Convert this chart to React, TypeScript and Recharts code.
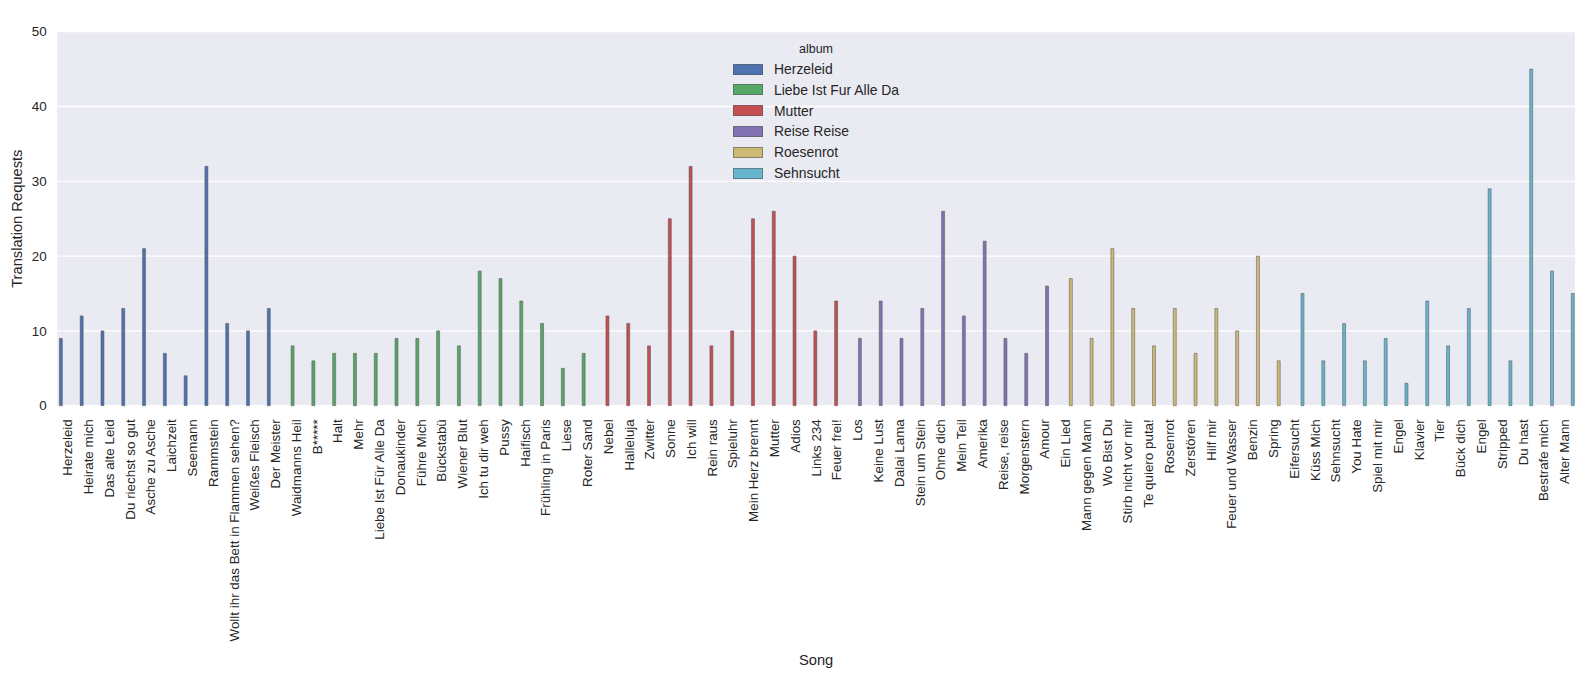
import React from 'react';
import { Bar, BarChart, CartesianGrid, Legend, XAxis, YAxis } from 'recharts';

const albums = ['Herzeleid', 'Liebe Ist Fur Alle Da', 'Mutter', 'Reise Reise', 'Roesenrot', 'Sehnsucht'];
const albumColors = ['#4C72B0', '#55A868', '#C44E52', '#8172B2', '#CCB974', '#64B5CD'];

const herzeleidSongs = ['Herzeleid', 'Heirate mich', 'Das alte Leid', 'Du riechst so gut', 'Asche zu Asche', 'Laichzeit', 'Seemann', 'Rammstein', 'Wollt ihr das Bett in Flammen sehen?', 'Weißes Fleisch', 'Der Meister'];
const herzeleidCounts = [9, 12, 10, 13, 21, 7, 4, 32, 11, 10, 13];

const liebeSongs = ['Waidmanns Heil', 'B*****', 'Halt', 'Mehr', 'Liebe Ist Für Alle Da', 'Donaukinder', 'Führe Mich', 'Bückstabü', 'Wiener Blut', 'Ich tu dir weh', 'Pussy', 'Haifisch', 'Frühling in Paris', 'Liese', 'Roter Sand'];
const liebeCounts = [8, 6, 7, 7, 7, 9, 9, 10, 8, 18, 17, 14, 11, 5, 7];

const mutterSongs = ['Nebel', 'Halleluja', 'Zwitter', 'Sonne', 'Ich will', 'Rein raus', 'Spieluhr', 'Mein Herz brennt', 'Mutter', 'Adios', 'Links 234', 'Feuer frei!'];
const mutterCounts = [12, 11, 8, 25, 32, 8, 10, 25, 26, 20, 10, 14];

const reiseSongs = ['Los', 'Keine Lust', 'Dalai Lama', 'Stein um Stein', 'Ohne dich', 'Mein Teil', 'Amerika', 'Reise, reise', 'Morgenstern', 'Amour'];
const reiseCounts = [9, 14, 9, 13, 26, 12, 22, 9, 7, 16];

const rosenrotSongs = ['Ein Lied', 'Mann gegen Mann', 'Wo Bist Du', 'Stirb nicht vor mir', 'Te quiero puta!', 'Rosenrot', 'Zerstören', 'Hilf mir', 'Feuer und Wasser', 'Benzin', 'Spring'];
const rosenrotCounts = [17, 9, 21, 13, 8, 13, 7, 13, 10, 20, 6];

const sehnsuchtSongs = ['Eifersucht', 'Küss Mich', 'Sehnsucht', 'You Hate', 'Spiel mit mir', 'Engel', 'Klavier', 'Tier', 'Bück dich', 'Engel', 'Stripped', 'Du hast', 'Bestrafe mich', 'Alter Mann'];
const sehnsuchtCounts = [15, 6, 11, 6, 9, 3, 14, 8, 13, 29, 6, 45, 18, 15];

const yTicks = [0, 10, 20, 30, 40, 50];

const songGroups = [herzeleidSongs, liebeSongs, mutterSongs, reiseSongs, rosenrotSongs, sehnsuchtSongs];
const countGroups = [herzeleidCounts, liebeCounts, mutterCounts, reiseCounts, rosenrotCounts, sehnsuchtCounts];

const rows = songGroups.flatMap((songs, g) =>
    songs.map((song, i) => {
        const row: Record<string, string | number | null> = { song };
        albums.forEach((_, k) => {
            row['a' + k] = k === g ? countGroups[g][i] : null;
        });
        return row;
    })
);

const FONT = '"Liberation Sans", Arial, sans-serif';
const TEXT = '#262626';

function SongTick({ x, y, payload }: any) {
    return (
        <text
            x={x}
            y={y}
            transform={`rotate(-90, ${x}, ${y})`}
            textAnchor="end"
            dominantBaseline="central"
            fontSize={13.4}
            fontFamily={FONT}
            fill={TEXT}
        >
            {payload.value}
        </text>
    );
}

function AlbumLegend() {
    return (
        <div style={{ position: 'relative', width: 1587, height: 200, fontFamily: FONT, color: TEXT }}>
            <div style={{ position: 'absolute', left: 766, top: 40, width: 100, textAlign: 'center', fontSize: 12.5, lineHeight: '18px' }}>
                album
            </div>
            {albums.map((album, i) => (
                <div
                    key={album}
                    style={{ position: 'absolute', left: 733, top: 59 + i * 20.8, height: 20, display: 'flex', alignItems: 'center' }}
                >
                    <span
                        style={{
                            display: 'inline-block',
                            width: 28,
                            height: 9,
                            background: albumColors[i],
                            border: '0.8px solid rgba(90,90,90,0.6)',
                            marginRight: 11
                        }}
                    />
                    <span style={{ fontSize: 13.9, whiteSpace: 'nowrap' }}>{album}</span>
                </div>
            ))}
        </div>
    );
}

export default function App() {
    return (
        <div style={{ position: 'absolute', left: 0, top: 0, background: '#fff' }}>
            <BarChart
                width={1587}
                height={692}
                data={rows}
                margin={{ top: 31.7, right: 12, bottom: 0, left: 0 }}
                barGap={0}
                barCategoryGap="10%"
            >
                <CartesianGrid vertical={false} stroke="#ffffff" strokeWidth={1.3} fill="#EAEAF2" />
                <XAxis
                    dataKey="song"
                    interval={0}
                    height={286.3}
                    tickLine={false}
                    axisLine={false}
                    tickSize={0}
                    tickMargin={13.5}
                    tick={<SongTick />}
                    label={{ value: 'Song', position: 'insideBottom', offset: 27, fontSize: 14.7, fontFamily: FONT, fill: TEXT }}
                />
                <YAxis
                    width={57.3}
                    domain={[0, 50]}
                    ticks={yTicks}
                    tickLine={false}
                    axisLine={false}
                    tickSize={0}
                    tickMargin={10.6}
                    tick={{ fontSize: 13.4, fontFamily: FONT, fill: TEXT }}
                    label={{
                        value: 'Translation Requests',
                        angle: -90,
                        position: 'insideLeft',
                        offset: 16.7,
                        fontSize: 14.7,
                        fontFamily: FONT,
                        fill: TEXT,
                        style: { textAnchor: 'middle' }
                    }}
                />
                <Legend
                    layout="vertical"
                    align="center"
                    verticalAlign="middle"
                    content={<AlbumLegend />}
                    wrapperStyle={{ left: 0, top: 0, width: 1587, height: 200, pointerEvents: 'none' }}
                />
                {albums.map((album, k) => (
                    <Bar
                        key={album}
                        dataKey={'a' + k}
                        name={album}
                        fill={albumColors[k]}
                        stroke="rgba(80,80,80,0.55)"
                        strokeWidth={0.9}
                        isAnimationActive={false}
                    />
                ))}
            </BarChart>
        </div>
    );
}
